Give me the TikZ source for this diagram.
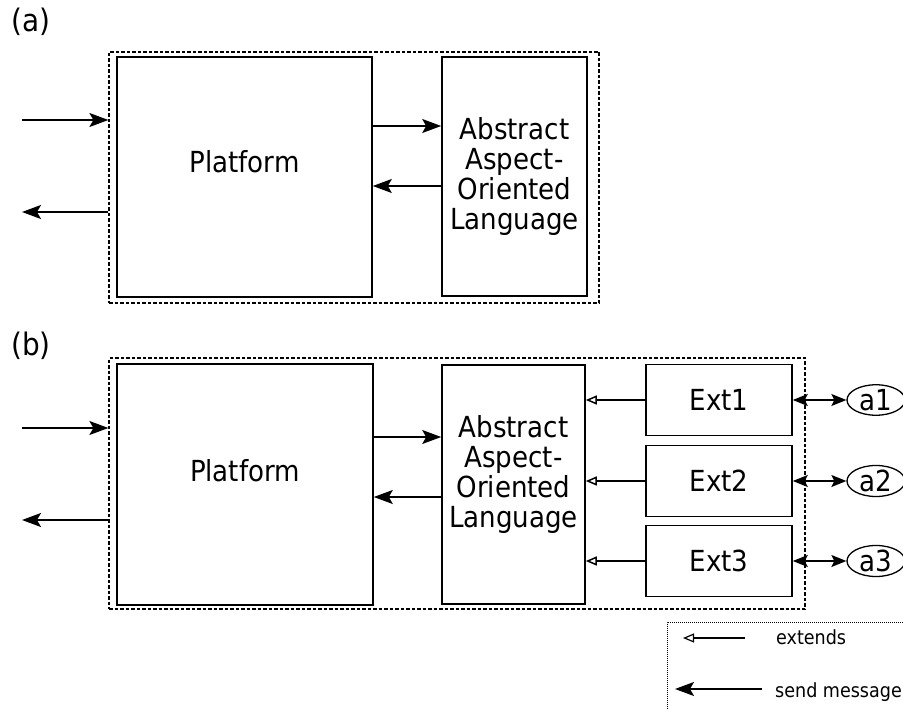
\documentclass[tikz,border=0pt]{standalone}
\usepackage{fontspec}
\setmainfont{DejaVu Sans Condensed}
\usetikzlibrary{arrows.meta,shapes.geometric}

\begin{document}
\begin{tikzpicture}[x=1pt,y=-1pt,
  every node/.style={font=\fontsize{29}{30}\selectfont,align=center},
  box/.style 2 args={draw,line width=1.6pt,minimum width=#1,minimum height=#2},
  frame/.style 2 args={draw,line width=1.2pt,dash pattern=on 3.5pt off 2pt,minimum width=#1,minimum height=#2},
  oval/.style={draw,ellipse,line width=1.3pt,minimum width=58pt,minimum height=29pt},
  msg/.style={line width=1.5pt,-{Stealth[length=19pt,width=14pt,inset=4pt]}},
  both/.style={line width=1.5pt,{Stealth[length=15pt,width=12pt,inset=3pt]}-{Stealth[length=15pt,width=12pt,inset=3pt]}},
  ext/.style={line width=1.5pt,-{Triangle[open,length=11pt,width=9pt]}},
  legend/.style={line width=1pt,dash pattern=on 1pt off 1pt},
  caption/.style={font=\fontsize{31}{34}\selectfont},
  small/.style={font=\fontsize{19.5}{22}\selectfont}]
\tikzstyle{every node}+=[inner sep=0pt]
\useasboundingbox (0,0) rectangle (903,709);
\clip (0,0) rectangle (903,709);
\node[caption,anchor=west] (capa) at (11,22) {(a)};
\node[frame={490pt}{251pt}] (fa) at (354,177.5) {};
\node[box={255pt}{240pt}] (pa) at (244.5,177) {};
\node (pat) at ([yshift=15pt]pa.center) {Platform};
\node[box={145pt}{239pt}] (la) at (514.5,176.5) {};
\node (lat) at (la.center) {Abstract\\Aspect-\\Oriented\\Language};
\coordinate (ia) at (22,120);
\coordinate (oa) at (22,212);
\draw[msg] (ia) -- (fa.west |- ia);
\draw[msg] (fa.west |- oa) -- (oa);
\draw[msg] (pa.east |- 0,126) -- (la.west |- 0,126);
\draw[msg] (la.west |- 0,186) -- (pa.east |- 0,186);
\node[caption,anchor=west] (capb) at (11,346) {(b)};
\node[frame={696pt}{251pt}] (fb) at (457,483.5) {};
\node[box={256pt}{241pt}] (pb) at (245,484.5) {};
\node (pbt) at ([yshift=14pt]pb.center) {Platform};
\node[box={143pt}{239pt}] (lb) at (513.5,484.5) {};
\node (lbt) at ([yshift=10pt]lb.center) {Abstract\\Aspect-\\Oriented\\Language};
\node[box={146pt}{71pt}] (e1) at (719,400) {Ext1};
\node[box={146pt}{71pt}] (e2) at (719,481) {Ext2};
\node[box={146pt}{71pt}] (e3) at (719,561) {Ext3};
\node[oval] (o1) at (876,400) {a1};
\node[oval] (o2) at (876,481) {a2};
\node[oval] (o3) at (876,561) {a3};
\coordinate (ib) at (22,428);
\coordinate (ob) at (22,520);
\draw[msg] (ib) -- (fb.west |- ib);
\draw[msg] (fb.west |- ob) -- (ob);
\draw[msg] (pb.east |- 0,437) -- (lb.west |- 0,437);
\draw[msg] (lb.west |- 0,497) -- (pb.east |- 0,497);
\draw[ext] (e1.west) -- (lb.east |- e1.west);
\draw[ext] (e2.west) -- (lb.east |- e2.west);
\draw[ext] (e3.west) -- (lb.east |- e3.west);
\draw[both] (e1.east) -- (o1.west);
\draw[both] (e2.east) -- (o2.west);
\draw[both] (e3.east) -- (o3.west);
\coordinate (lg) at (667,622);
\draw[legend] (lg |- 0,715) -- (lg) -- (910,622);
\coordinate (x1) at (745,638);
\coordinate (x2) at (683,638);
\draw[ext,line width=1.2pt] (x1) -- (x2);
\node[small,anchor=west] (t1) at (776,637) {extends};
\coordinate (m1) at (762,689);
\coordinate (m2) at (675,689);
\draw[msg] (m1) -- (m2);
\node[small,anchor=base west] (t2) at (775,697) {send message};
\end{tikzpicture}
\end{document}
